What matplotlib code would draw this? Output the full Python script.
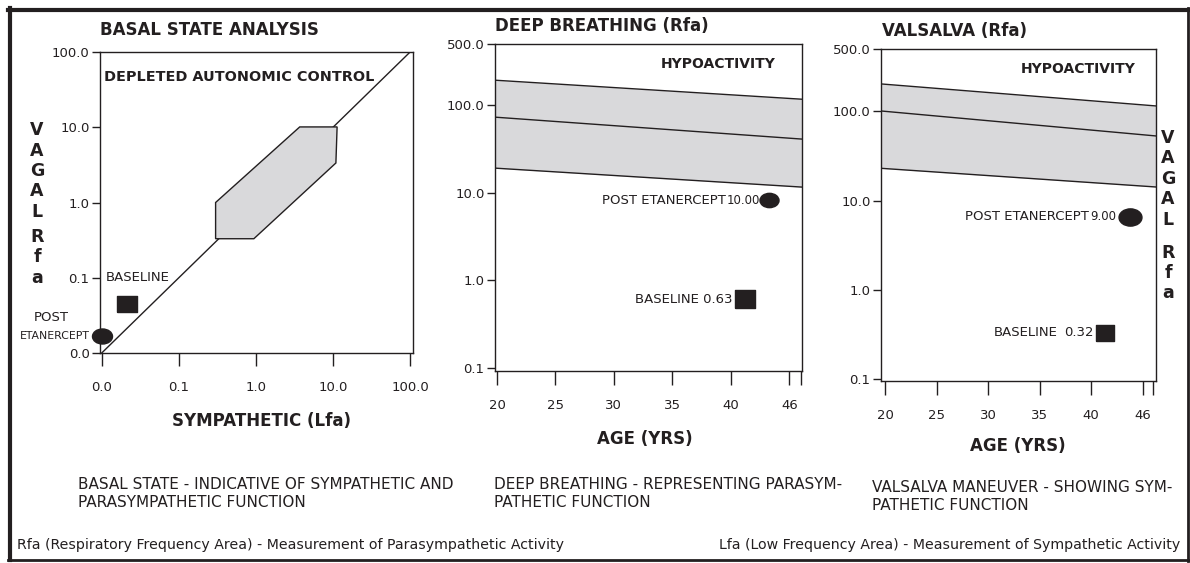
import matplotlib.pyplot as plt
from matplotlib.path import Path
from matplotlib.transforms import Affine2D
from matplotlib.lines import Line2D

plt.rcParams['font.family'] = ['DejaVu Sans']

W, H = 1190, 563
INK = '#231f20'
BAND = '#d9d9db'

# basal state panel (log-log, 0.01 is printed as "0.0")
basal_ticks = [0.01, 0.1, 1, 10, 100]
basal_ticklabels = ['0.0', '0.1', '1.0', '10.0', '100.0']
diag_lfa = [0.01, 100]
diag_rfa = [0.01, 100]
normal_lfa = [0.30, 0.30, 0.94, 10.9, 11.3, 3.7]
normal_rfa = [1.0, 0.33, 0.33, 3.35, 10.1, 10.1]
basal_base_lfa, basal_base_rfa = 0.021, 0.045
basal_post_lfa, basal_post_rfa = 0.01, 0.017

# age axis shared by deep breathing and valsalva
age_ticks = [20, 25, 30, 35, 40, 45, 46]
age_ticklabels = ['20', '25', '30', '35', '40', '46', '']
rfa_ticks = [0.1, 1, 10, 100, 500]
rfa_ticklabels = ['0.1', '1.0', '10.0', '100.0', '500.0']

# deep breathing
db_ages = [19.83, 46.09]
db_upper = [193, 117]
db_mid = [73, 41]
db_lower = [19.1, 11.6]
db_post_age, db_post_rfa, db_post_label = 43.3, 8.2, '10.00'
db_base_age, db_base_rfa, db_base_label = 41.2, 0.61, '0.63'

# valsalva
vs_ages = [19.6, 46.3]
vs_upper = [203, 115]
vs_mid = [101, 53]
vs_lower = [23, 14.2]
vs_post_age, vs_post_rfa, vs_post_label = 43.8, 6.6, '9.00'
vs_base_age, vs_base_rfa, vs_base_label = 41.3, 0.33, '0.32'

ellipse = Path.unit_circle().transformed(Affine2D().scale(1.33, 1.0))
square = Path([(-1.15, -1), (1.15, -1), (1.15, 1), (-1.15, 1), (-1.15, -1)])


def fx(x):
    return x / W


def fy(y):
    return 1 - y / H


def style_axes(ax, xlen, xpad):
    for s in ax.spines.values():
        s.set_linewidth(1.0)
        s.set_color(INK)
    ax.minorticks_off()
    ax.tick_params(axis='y', length=6, width=1, pad=1.5, labelsize=9.5, colors=INK)
    ax.tick_params(axis='x', length=xlen, width=1, pad=xpad, labelsize=9.5, colors=INK)


def vertical_word(x, y0, word, pitch):
    for i, ch in enumerate(word):
        fig.text(fx(x), fy(y0 + i * pitch), ch, ha='center', va='center',
                 fontsize=12.5, fontweight='bold', color=INK)


def age_panel(ax, ages, upper, mid, lower, post, base, post_lbl, base_lbl,
              ylo, post_ms, base_ms, post_off, base_split, xpad):
    ax.set_yscale('log')
    ax.fill_between(ages, lower, upper, color=BAND, lw=0, zorder=1)
    for ys in (upper, mid, lower):
        ax.plot(ages, ys, color=INK, lw=1.0, zorder=2)
    ax.plot([post[0]], [post[1]], ls='none', marker=ellipse, ms=post_ms, color=INK, zorder=4)
    ax.plot([base[0]], [base[1]], ls='none', marker=square, ms=base_ms, color=INK, zorder=4)
    ax.annotate('POST ETANERCEPT', post, xytext=(post_off - 1, 0), textcoords='offset pixels',
                ha='right', va='center', fontsize=9.5, color=INK)
    ax.annotate(post_lbl, post, xytext=(post_off, 0), textcoords='offset pixels',
                ha='left', va='center', fontsize=8.5, color=INK)
    if base_split:
        ax.annotate('BASELINE', base, xytext=(-47, 0), textcoords='offset pixels',
                    ha='right', va='center', fontsize=9.5, color=INK)
        ax.annotate(base_lbl, base, xytext=(-11, 0), textcoords='offset pixels',
                    ha='right', va='center', fontsize=9.5, color=INK)
    else:
        ax.annotate('BASELINE ' + base_lbl, base, xytext=(-12, 0), textcoords='offset pixels',
                    ha='right', va='center', fontsize=9.5, color=INK)
    ax.set_xlim(ages[0], ages[1])
    ax.set_ylim(ylo, 500)
    ax.set_xticks(age_ticks)
    ax.set_xticklabels(age_ticklabels)
    ax.set_yticks(rfa_ticks)
    ax.set_yticklabels(rfa_ticklabels)
    style_axes(ax, 10, xpad)


fig = plt.figure(figsize=(11.9, 5.63), dpi=100)

# basal state
ax1 = fig.add_axes([fx(100), fy(353), 313 / W, 301 / H])
ax1.set_xscale('log')
ax1.set_yscale('log')
ax1.plot(diag_lfa, diag_rfa, color=INK, lw=1.0, zorder=1)
ax1.fill(normal_lfa, normal_rfa, facecolor=BAND, edgecolor=INK, lw=1.0, zorder=2)
ax1.plot([basal_base_lfa], [basal_base_rfa], ls='none', marker=square, ms=13.9, color=INK, zorder=4)
ax1.plot([basal_post_lfa], [basal_post_rfa], ls='none', marker=ellipse, ms=14.4, color=INK,
         zorder=5, clip_on=False)
ax1.annotate('BASELINE', (basal_base_lfa, basal_base_rfa), xytext=(-21, 26),
             textcoords='offset pixels', ha='left', va='center', fontsize=9.5, color=INK)
ax1.annotate('POST', (basal_post_lfa, basal_post_rfa), xytext=(-50, 18),
             textcoords='offset pixels', ha='center', va='center', fontsize=9.5, color=INK)
ax1.annotate('ETANERCEPT', (basal_post_lfa, basal_post_rfa), xytext=(-12, 0),
             textcoords='offset pixels', ha='right', va='center', fontsize=7.8, color=INK)
ax1.set_xlim(0.0095, 109)
ax1.set_ylim(0.01, 100)
ax1.set_xticks(basal_ticks)
ax1.set_xticklabels(basal_ticklabels)
ax1.set_yticks(basal_ticks)
ax1.set_yticklabels(basal_ticklabels)
style_axes(ax1, 9, 11)

ax2 = fig.add_axes([fx(495), fy(371), 307 / W, 327 / H])
age_panel(ax2, db_ages, db_upper, db_mid, db_lower, (db_post_age, db_post_rfa),
          (db_base_age, db_base_rfa), db_post_label, db_base_label, 0.092, 13.7, 14.4,
          -42.5, False, 10.5)

ax3 = fig.add_axes([fx(881), fy(381), 275 / W, 332 / H])
age_panel(ax3, vs_ages, vs_upper, vs_mid, vs_lower, (vs_post_age, vs_post_rfa),
          (vs_base_age, vs_base_rfa), vs_post_label, vs_base_label, 0.095, 16.5, 13.5,
          -40.5, True, 10)

# titles and in-panel captions
bold = dict(fontweight='bold', color=INK, va='center')
fig.text(fx(100), fy(30), 'BASAL STATE ANALYSIS', ha='left', fontsize=12, **bold)
fig.text(fx(495), fy(26), 'DEEP BREATHING (Rfa)', ha='left', fontsize=12, **bold)
fig.text(fx(882), fy(31), 'VALSALVA (Rfa)', ha='left', fontsize=12, **bold)
fig.text(fx(104), fy(77), 'DEPLETED AUTONOMIC CONTROL', ha='left', fontsize=10.4, **bold)
fig.text(fx(661), fy(64), 'HYPOACTIVITY', ha='left', fontsize=10, **bold)
fig.text(fx(1021), fy(69), 'HYPOACTIVITY', ha='left', fontsize=10, **bold)
fig.text(fx(262), fy(421), 'SYMPATHETIC (Lfa)', ha='center', fontsize=12, **bold)
fig.text(fx(645), fy(439), 'AGE (YRS)', ha='center', fontsize=12, **bold)
fig.text(fx(1018), fy(446), 'AGE (YRS)', ha='center', fontsize=12, **bold)

vertical_word(37, 130, 'VAGAL', 20.5)
vertical_word(37, 237, 'Rfa', 20.5)
vertical_word(1168, 138, 'VAGAL', 20.5)
vertical_word(1168, 253, 'Rfa', 20)

# footnotes (baseline given for the last line of each block)
note = dict(fontsize=11, color=INK, va='baseline', linespacing=1.29)
fig.text(fx(78), fy(507), 'BASAL STATE - INDICATIVE OF SYMPATHETIC AND\nPARASYMPATHETIC FUNCTION',
         ha='left', **note)
fig.text(fx(494), fy(507), 'DEEP BREATHING - REPRESENTING PARASYM-\nPATHETIC FUNCTION',
         ha='left', **note)
fig.text(fx(872), fy(510), 'VALSALVA MANEUVER - SHOWING SYM-\nPATHETIC FUNCTION',
         ha='left', **note)
legend_note = dict(fontsize=10.2, color=INK, va='baseline')
fig.text(fx(17), fy(549), 'Rfa (Respiratory Frequency Area) - Measurement of Parasympathetic Activity',
         ha='left', **legend_note)
fig.text(fx(1180), fy(549), 'Lfa (Low Frequency Area) - Measurement of Sympathetic Activity',
         ha='right', **legend_note)

# outer frame
fig.add_artist(Line2D([fx(10), fx(10)], [fy(8), fy(560)], color=INK, lw=3.0))
fig.add_artist(Line2D([fx(8), fx(1189)], [fy(10), fy(10)], color=INK, lw=3.0))
fig.add_artist(Line2D([fx(1187.5), fx(1187.5)], [fy(8), fy(561)], color=INK, lw=2.0))
fig.add_artist(Line2D([fx(8), fx(1189)], [fy(559.5), fy(559.5)], color=INK, lw=2.0))

fig.savefig('out.png', dpi=100)
